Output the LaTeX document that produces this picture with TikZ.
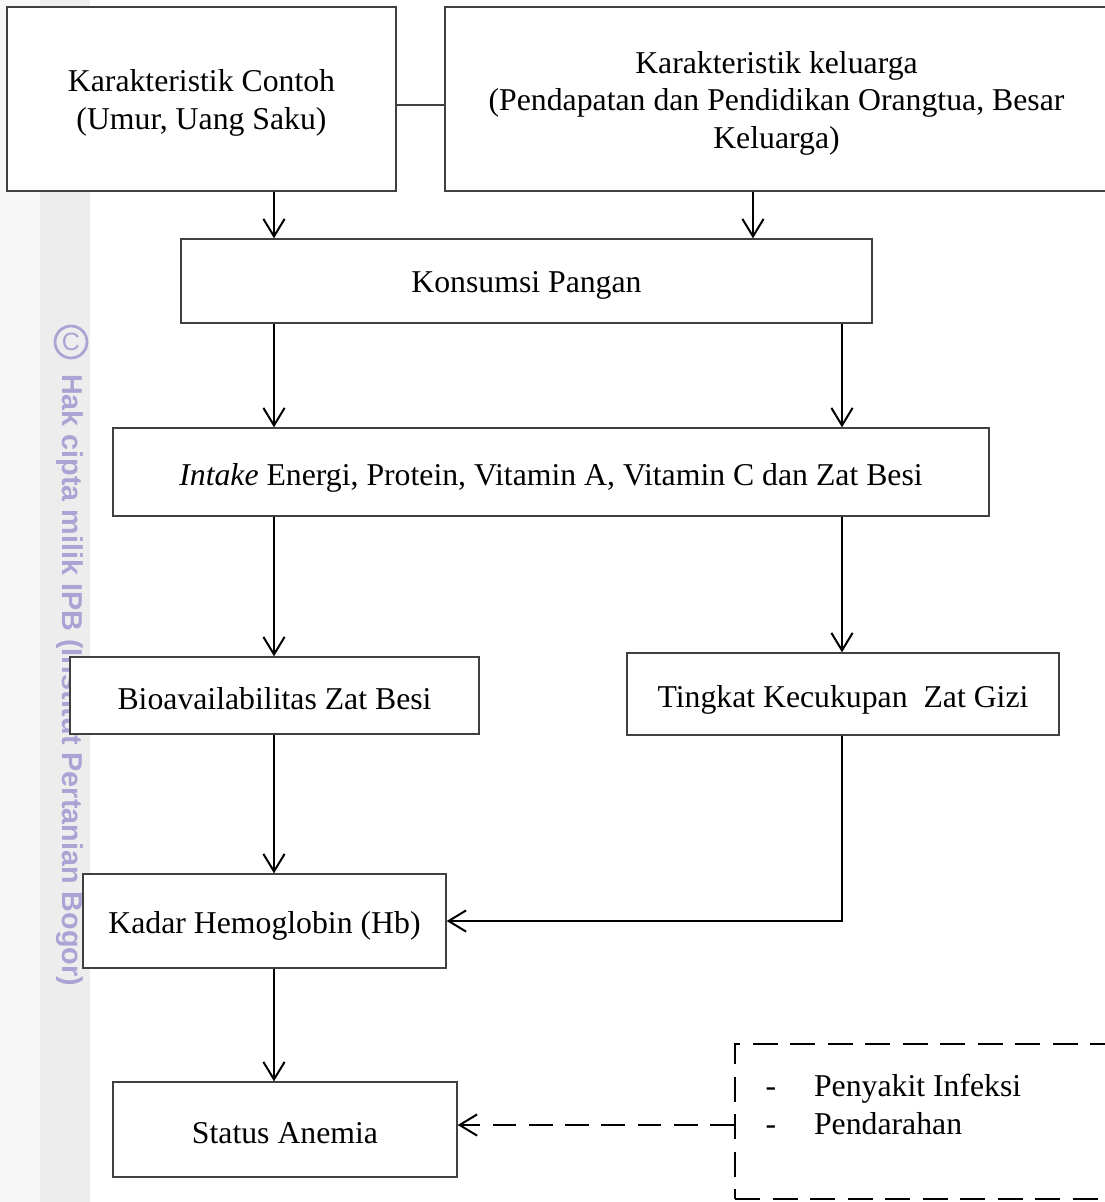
\documentclass[tikz,border=0pt]{standalone}
\usepackage{fontspec}
\setmainfont{Liberation Serif}
\newfontfamily\wmfont{Liberation Sans}
\usetikzlibrary{arrows.meta,calc}
\definecolor{wmcol}{RGB}{170,164,212}
\definecolor{stripA}{RGB}{247,247,247}
\definecolor{stripB}{RGB}{237,237,237}
\begin{document}
\begin{tikzpicture}[x=0.4pt,y=-0.4pt,
  box/.style={draw=black!75, line width=0.55pt, fill=white, rectangle, inner sep=0pt},
  txt/.style={inner sep=0pt, align=center, font=\fontsize{12.7}{15}\selectfont},
  arr/.style={-{Straight Barb[length=7pt,width=8.5pt]}, line width=0.8pt},
  darr/.style={arr, dash pattern=on 9.5pt off 5pt},
  dbox/.style={draw=black, line width=0.8pt, dash pattern=on 10pt off 5pt, rectangle, inner sep=0pt},
  wmtext/.style={text=wmcol, font=\wmfont\bfseries\fontsize{11.5}{13}\selectfont, inner sep=0pt}
]
\useasboundingbox (0,0) rectangle (1105,1202);
\clip (0,0) rectangle (1105,1202);
% watermark strip
\fill[stripA] (0,0) rectangle (40,1202);
\fill[stripB] (40,0) rectangle (90,1202);
\draw[wmcol, line width=1.1pt] (71,342) circle [radius=16];
\node[wmtext, font=\wmfont\fontsize{10}{12}\selectfont] (copy) at (71,342) {C};
\node[wmtext, rotate=-90] (wm) at (70,680) {Hak cipta milik IPB (Institut Pertanian Bogor)};
% helper coordinates
\coordinate (colL) at (274,0);
\coordinate (colM) at (753,0);
\coordinate (colR) at (842,0);
\coordinate (link) at (0,105);
\coordinate (dly) at (0,1125);
% boxes
\node[box, minimum width=155.6pt, minimum height=73.6pt] (kc) at (201.5,99) {};
\node[txt] (kct) at ($(kc.center)+(0,4)$) {Karakteristik Contoh\\(Umur, Uang Saku)};
\node[box, minimum width=266pt, minimum height=73.6pt] (kk) at (777.5,99) {};
\node[txt] (kkt) at ($(kk.center)+(-1,4)$)
  {Karakteristik keluarga\\(Pendapatan dan Pendidikan Orangtua, Besar\\Keluarga)};
\node[box, minimum width=276.4pt, minimum height=33.6pt] (kp) at (526.5,281) {};
\node[txt] (kpt) at ($(kp.center)+(0,4)$) {Konsumsi Pangan};
\node[box, minimum width=350.4pt, minimum height=35.2pt] (in) at (551,472) {};
\node[txt] (int) at ($(in.center)+(0,6)$)
  {\textit{Intake} Energi, Protein, Vitamin A, Vitamin C dan Zat Besi};
\node[box, minimum width=163.6pt, minimum height=30.8pt] (bio) at (274.5,695.5) {};
\node[txt] (biot) at ($(bio.center)+(0,3)$) {Bioavailabilitas Zat Besi};
\node[box, minimum width=172.8pt, minimum height=32.8pt] (tk) at (843,694) {};
\node[txt] (tkt) at ($(tk.center)+(0,6)$) {Tingkat Kecukupan\ \ Zat Gizi};
\node[box, minimum width=145.2pt, minimum height=37.6pt] (hb) at (264.5,921) {};
\node[txt] (hbt) at ($(hb.center)+(0,5)$) {Kadar Hemoglobin (Hb)};
\node[box, minimum width=137.6pt, minimum height=38pt] (sa) at (285,1129.5) {};
\node[txt] (sat) at ($(sa.center)+(0,4)$) {Status Anemia};
\node[dbox, minimum width=150pt, minimum height=62pt] (rf) at (922.5,1121.5) {};
\node[txt, anchor=north west, align=left] (rft) at (765,1074)
  {-\hspace{15.2pt}Penyakit Infeksi\\-\hspace{15.2pt}Pendarahan};
% connectors
\draw[line width=0.5pt, draw=black!75] (kc.east |- link) -- (kk.west |- link);
\draw[arr] (kc.south -| colL) -- (kp.north -| colL);
\draw[arr] (kk.south -| colM) -- (kp.north -| colM);
\draw[arr] (kp.south -| colL) -- (in.north -| colL);
\draw[arr] (kp.south -| colR) -- (in.north -| colR);
\draw[arr] (in.south -| colL) -- (bio.north -| colL);
\draw[arr] (in.south -| colR) -- (tk.north -| colR);
\draw[arr] (bio.south -| colL) -- (hb.north -| colL);
\draw[arr] (tk.south -| colR) |- (hb.east);
\draw[arr] (hb.south -| colL) -- (sa.north -| colL);
\draw[darr] (rf.west |- dly) -- (sa.east |- dly);
\end{tikzpicture}
\end{document}
